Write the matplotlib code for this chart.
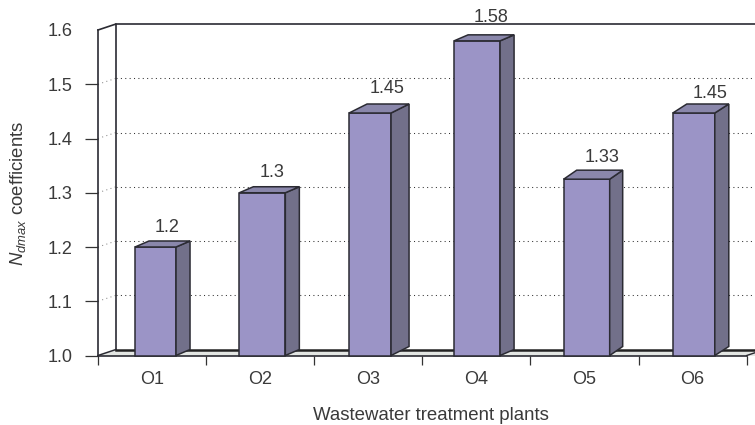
import numpy as np
import matplotlib
matplotlib.use('Agg')
import matplotlib.pyplot as plt

plt.rcParams['font.family'] = ['Liberation Sans', 'DejaVu Sans']
plt.rcParams['mathtext.fontset'] = 'custom'
plt.rcParams['mathtext.it'] = 'Liberation Sans:italic'
plt.rcParams['mathtext.rm'] = 'Liberation Sans'

plants = ['O1', 'O2', 'O3', 'O4', 'O5', 'O6']
# bar heights, printed labels kept separately
coefficients = [1.2, 1.3, 1.447, 1.58, 1.325, 1.447]
value_labels = ['1.2', '1.3', '1.45', '1.58', '1.33', '1.45']
y_ticks = [1.0, 1.1, 1.2, 1.3, 1.4, 1.5, 1.6]

W, H = 755, 425
INK = '#2b2b33'
TEXT = '#3a3a3a'
FS = 13

# per bar drawing tweaks, all in pixels
bar_nudge = [1.3, 0, -0.4, -1.5, 0, -1]
bar_width = [41, 46, 42, 46, 46, 42]
side_px = [14, 14, 18, 14, 13, 14]
cap_px = [6, 6, 9, 6, 9, 9]
label_dx = [12, 10, 17, 14, 15, 16]
label_dy = [20, 20, 25, 23.5, 22, 20]

fig = plt.figure(figsize=(W / 100, H / 100), dpi=100)
# axes box is the front plane of the fake 3D chart
left, right, bottom, top = 98, 746.7, 355.5, 30
ax = fig.add_axes([left / W, 1 - bottom / H, (right - left) / W, (bottom - top) / H])
ax.set_xlim(0, 6)
ax.set_ylim(1.0, 1.6)

# pixel -> data steps
px_x = 6 / (right - left)
px_y = 0.6 / (bottom - top)
wall_dx, wall_dy = 18 * px_x, 6 * px_y
xend = 6.2  # runs off the edge of the image

# floor
ax.fill([0, xend, xend, wall_dx], [1.0, 1.0, 1 + wall_dy, 1 + wall_dy],
        color='#e3e6e3', lw=0, zorder=1, clip_on=False)
ax.plot([0, wall_dx], [1.0, 1 + wall_dy], color=INK, lw=1.1, zorder=2, clip_on=False)
ax.plot([wall_dx, xend], [1 + wall_dy, 1 + wall_dy], color='#222222', lw=1.8, zorder=2, clip_on=False)
ax.plot([6, 6 + wall_dx], [1.0, 1 + wall_dy], color=INK, lw=1, zorder=2, clip_on=False)

# back wall and gridlines
ax.plot([0, wall_dx, wall_dx], [1.6, 1.6 + wall_dy, 1 + wall_dy], color=INK, lw=1.2, zorder=2, clip_on=False)
ax.plot([wall_dx, xend], [1.6 + wall_dy, 1.6 + wall_dy], color=INK, lw=1.2, zorder=2, clip_on=False)
for v in y_ticks[1:-1]:
    ax.plot([wall_dx, xend], [v + wall_dy, v + wall_dy], color='#333333', lw=0.75,
            ls=(0, (1, 3.2)), zorder=1.5, clip_on=False)
    ax.plot([0, wall_dx], [v, v + wall_dy], color='#888888', lw=0.75,
            ls=(0, (1, 3.2)), zorder=1.5, clip_on=False)

# bars
centers = np.arange(len(plants)) + 0.52 + np.array(bar_nudge) * px_x
for i, (c, v, lab) in enumerate(zip(centers, coefficients, value_labels)):
    x0 = c - bar_width[i] * px_x / 2
    x1 = c + bar_width[i] * px_x / 2
    dx, dy = side_px[i] * px_x, cap_px[i] * px_y
    ax.fill([x0, x1, x1, x0], [1, 1, v, v], fc='#9b94c6', ec=INK, lw=1.1, zorder=3, clip_on=False)
    ax.fill([x1, x1 + dx, x1 + dx, x1], [1, 1 + dy, v + dy, v],
            fc='#72708a', ec=INK, lw=1.1, zorder=3, clip_on=False)
    ax.fill([x0, x1, x1 + dx, x0 + dx], [v, v, v + dy, v + dy],
            fc='#8a87ab', ec=INK, lw=1.1, zorder=3, clip_on=False)
    ax.text(c + label_dx[i] * px_x, v + label_dy[i] * px_y, lab, ha='center', va='center', fontsize=FS,
            color=TEXT, zorder=4, clip_on=False)

for s in ['top', 'right']:
    ax.spines[s].set_visible(False)
ax.spines['left'].set_color(INK)
ax.spines['left'].set_linewidth(1.2)
ax.spines['bottom'].set_color(INK)
ax.spines['bottom'].set_linewidth(1.2)
ax.spines['bottom'].set_zorder(2.5)

ax.set_yticks(y_ticks)
ax.set_yticklabels([f'{v:.1f}' for v in y_ticks])
ax.tick_params(axis='y', length=9.4, width=0.9, color='#333333', labelsize=FS, labelcolor=TEXT, pad=9)
for t, v in zip(ax.yaxis.get_major_ticks(), y_ticks):
    if v == 1.6:
        t.tick1line.set_visible(False)
ax.set_xticks(np.arange(7))
ax.set_xticklabels([])
ax.set_xticks(np.arange(6) + 0.5, plants, minor=True)
ax.tick_params(axis='x', which='major', length=6.5, width=0.9, color='#333333')
ax.tick_params(axis='x', which='minor', length=0, labelsize=FS, labelcolor=TEXT, pad=11)

fig.text(431 / W, 1 - 420 / H, 'Wastewater treatment plants', ha='center', va='baseline',
         fontsize=13.4, color=TEXT)
fig.text(18 / W, 1 - 193 / H, r'$N_{dmax}$ coefficients', rotation=90, ha='center', va='center',
         fontsize=13.4, color=TEXT)

fig.savefig('out.png', dpi=100)
